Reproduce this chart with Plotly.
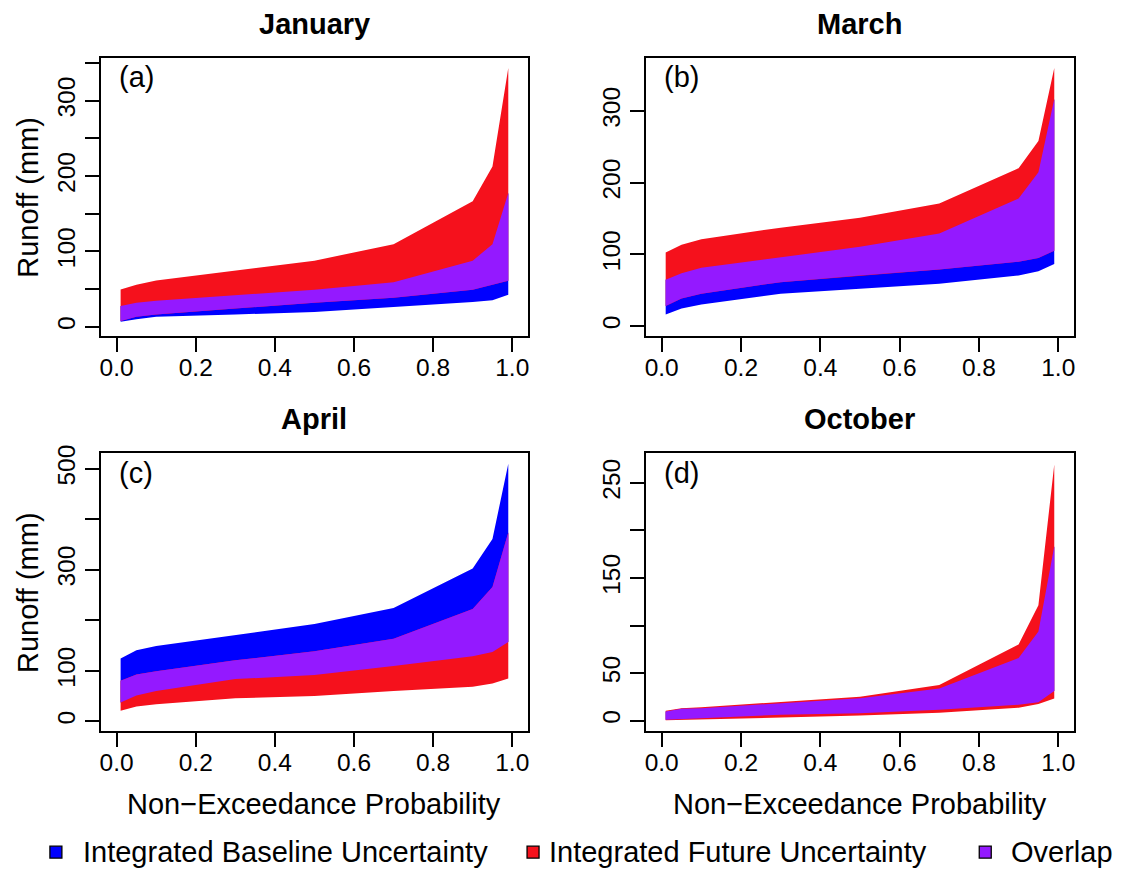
import plotly.graph_objects as go

# Non-exceedance probabilities at which the runoff quantiles are evaluated
prob = [0.01, 0.05, 0.1, 0.3, 0.5, 0.7, 0.9, 0.95, 0.99]

# Runoff (mm) envelopes: baseline and future, lower / upper bounds per month
jan_base_low = [6.6, 10.1, 13.2, 16.3, 19.7, 26.3, 32.9, 35.1, 42.6]
jan_base_high = [27.7, 32.0, 34.7, 41.7, 49.0, 59.0, 87.7, 109.7, 177.6]
jan_fut_low = [7.5, 13.2, 16.3, 24.2, 32.0, 38.6, 49.0, 55.8, 61.0]
jan_fut_high = [49.6, 55.8, 61.4, 74.6, 87.7, 109.7, 166.7, 212.8, 343.5]

mar_base_low = [16.2, 24.5, 30.0, 45.2, 52.1, 59.0, 70.5, 76.5, 86.7]
mar_base_high = [64.6, 73.7, 81.2, 95.9, 110.6, 129.0, 178.0, 214.8, 317.0]
mar_fut_low = [28.0, 38.3, 45.2, 61.3, 70.5, 78.8, 89.9, 95.0, 105.1]
mar_fut_high = [102.8, 113.4, 121.3, 137.3, 151.2, 171.0, 220.3, 258.2, 360.0]

apr_base_low = [37.3, 51.0, 60.2, 83.7, 91.6, 109.8, 128.8, 137.3, 156.9]
apr_base_high = [124.2, 140.6, 149.0, 171.2, 192.8, 224.2, 302.6, 360.8, 509.9]
apr_fut_low = [21.0, 29.4, 34.0, 45.7, 50.4, 60.2, 68.6, 75.1, 85.0]
apr_fut_high = [80.4, 92.8, 99.4, 121.0, 138.6, 163.4, 222.2, 266.0, 374.0]

oct_base_low = [1.0, 2.0, 2.7, 6.2, 7.9, 11.5, 16.7, 19.4, 31.2]
oct_base_high = [9.7, 12.5, 13.1, 18.3, 23.5, 34.0, 65.9, 93.8, 183.3]
oct_fut_low = [0.5, 1.0, 1.7, 3.4, 5.4, 8.5, 13.7, 17.7, 23.3]
oct_fut_high = [10.4, 13.1, 14.2, 19.4, 25.3, 37.5, 80.2, 121.5, 269.4]

months = ["January", "March", "April", "October"]
tags = ["(a)", "(b)", "(c)", "(d)"]
x_ticks = [0.0, 0.2, 0.4, 0.6, 0.8, 1.0]
x_tick_text = ["0.0", "0.2", "0.4", "0.6", "0.8", "1.0"]
y_ticks = [
    [0, 50, 100, 150, 200, 250, 300, 350],
    [0, 100, 200, 300],
    [0, 100, 200, 300, 400, 500],
    [0, 50, 100, 150, 200, 250],
]
y_tick_text = [
    ["0", "", "100", "", "200", "", "300", ""],
    ["0", "100", "200", "300"],
    ["0", "100", "", "300", "", "500"],
    ["0", "50", "", "150", "", "250"],
]
legend_labels = ["Integrated Baseline Uncertainty", "Integrated Future Uncertainty", "Overlap"]

BLUE = "#0000FF"
RED = "#F5111C"
PURPLE = "#9419FF"
FONT = "Liberation Sans, Arial, Helvetica, sans-serif"

W, H = 1126, 869


def px(x):
    return x / W


def py(y):
    return 1 - y / H


panels = [
    (jan_base_low, jan_base_high, jan_fut_low, jan_fut_high),
    (mar_base_low, mar_base_high, mar_fut_low, mar_fut_high),
    (apr_base_low, apr_base_high, apr_fut_low, apr_fut_high),
    (oct_base_low, oct_base_high, oct_fut_low, oct_fut_high),
]

# panel frames in pixels: left, right, top, bottom
frames = [
    (100, 528, 50, 331),
    (646, 1075, 50, 331),
    (100, 528, 449, 730),
    (646, 1075, 449, 730),
]
y_ranges = [[-12.2, 357.5], [-13.8, 374.7], [-19.6, 531.4], [-11.1, 281.6]]
x_range = [-0.04, 1.04]

fig = go.Figure()


def band(xs, lo, hi, color, xa, ya):
    return go.Scatter(
        x=list(xs) + list(xs)[::-1],
        y=list(hi) + list(lo)[::-1],
        fill="toself",
        fillcolor=color,
        mode="lines",
        line=dict(width=0, color=color),
        hoverinfo="skip",
        showlegend=False,
        xaxis=xa,
        yaxis=ya,
    )


layout = dict(
    width=W,
    height=H,
    margin=dict(l=0, r=0, t=0, b=0),
    paper_bgcolor="white",
    plot_bgcolor="white",
    font=dict(family=FONT, color="black"),
    showlegend=False,
)

annotations = []
shapes = []

for i, (b_lo, b_hi, f_lo, f_hi) in enumerate(panels):
    n = i + 1
    xa = "x" if n == 1 else f"x{n}"
    ya = "y" if n == 1 else f"y{n}"
    ov_lo = [max(a, b) for a, b in zip(b_lo, f_lo)]
    ov_hi = [min(a, b) for a, b in zip(b_hi, f_hi)]
    fig.add_trace(band(prob, b_lo, b_hi, BLUE, xa, ya))
    fig.add_trace(band(prob, f_lo, f_hi, RED, xa, ya))
    fig.add_trace(band(prob, ov_lo, ov_hi, PURPLE, xa, ya))

    left, right, top, bottom = frames[i]
    xkey = "xaxis" if n == 1 else f"xaxis{n}"
    ykey = "yaxis" if n == 1 else f"yaxis{n}"
    layout[xkey] = dict(
        domain=[px(left), px(right)],
        anchor=ya,
        range=x_range,
        tickvals=x_ticks,
        ticktext=x_tick_text,
        ticks="outside",
        ticklen=14,
        tickwidth=1.6,
        tickcolor="black",
        ticklabelstandoff=-5,
        showline=True,
        linecolor="black",
        linewidth=1.6,
        mirror=True,
        showgrid=False,
        zeroline=False,
        tickfont=dict(size=24.5, family=FONT, color="black"),
        fixedrange=True,
    )
    layout[ykey] = dict(
        domain=[py(bottom), py(top)],
        anchor=xa,
        range=y_ranges[i],
        tickvals=y_ticks[i],
        ticktext=y_tick_text[i],
        ticks="outside",
        ticklen=14,
        tickwidth=1.6,
        tickcolor="black",
        tickangle=-90,
        showline=True,
        linecolor="black",
        linewidth=1.6,
        mirror=True,
        showgrid=False,
        zeroline=False,
        tickfont=dict(size=24.5, family=FONT, color="black"),
        fixedrange=True,
    )

    cx = (left + right) / 2
    # month title
    annotations.append(dict(
        text=f"<b>{months[i]}</b>", x=px(cx), y=py(top - 34), xref="paper", yref="paper",
        xanchor="center", yanchor="middle", showarrow=False,
        font=dict(size=29, family=FONT, color="black"),
    ))
    # panel tag
    annotations.append(dict(
        text=tags[i], x=px(left + 16), y=py(top + 20), xref="paper", yref="paper",
        xanchor="left", yanchor="middle", showarrow=False,
        font=dict(size=29, family=FONT, color="black"),
    ))
    # y-axis title on left column
    if i in (0, 2):
        annotations.append(dict(
            text="Runoff (mm)", x=px(27), y=py((top + bottom) / 2), xref="paper", yref="paper",
            xanchor="center", yanchor="middle", textangle=-90, showarrow=False,
            font=dict(size=29, family=FONT, color="black"),
        ))
    # x-axis title on bottom row
    if i in (2, 3):
        annotations.append(dict(
            text="Non\u2212Exceedance Probability", x=px(cx), y=py(803), xref="paper", yref="paper",
            xanchor="center", yanchor="middle", showarrow=False,
            font=dict(size=29, family=FONT, color="black"),
        ))

# legend row along the bottom
legend_items = [
    (BLUE, 55, 80, legend_labels[0]),
    (RED, 533, 547, legend_labels[1]),
    (PURPLE, 986, 1010, legend_labels[2]),
]
for color, sq_x, tx, label in legend_items:
    shapes.append(dict(
        type="rect", xref="paper", yref="paper",
        x0=px(sq_x - 6), x1=px(sq_x + 6), y0=py(858), y1=py(846),
        fillcolor=color, line=dict(color="black", width=1.3),
    ))
    annotations.append(dict(
        text=label, x=px(tx), y=py(852), xref="paper", yref="paper",
        xanchor="left", yanchor="middle", showarrow=False,
        font=dict(size=29, family=FONT, color="black"),
    ))

layout["annotations"] = annotations
layout["shapes"] = shapes
fig.update_layout(**layout)

fig.write_html("out.html")
